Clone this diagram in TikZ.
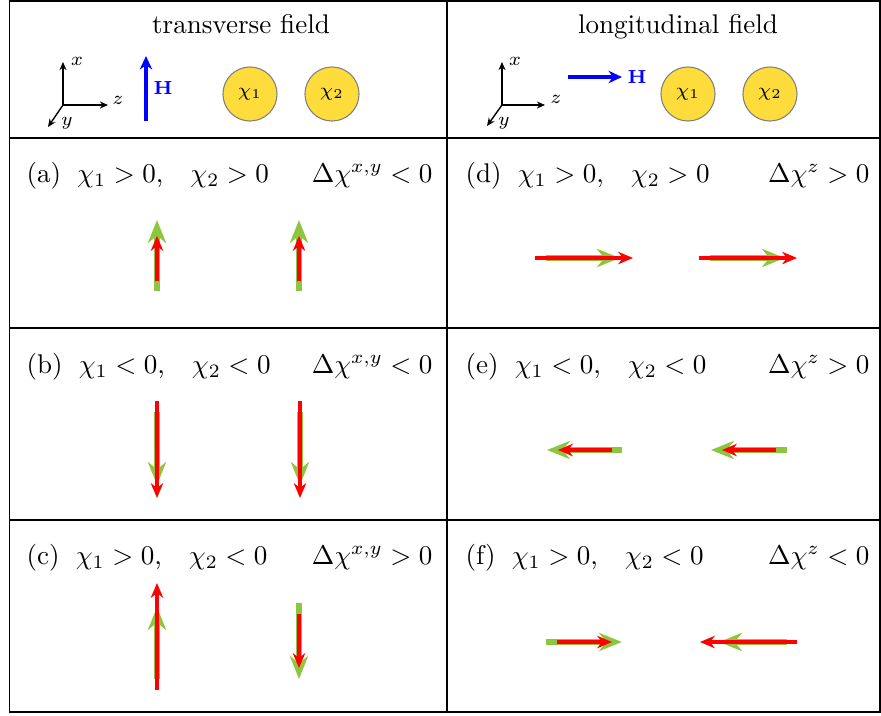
\documentclass[tikz,border=0pt]{standalone}
\usetikzlibrary{arrows.meta}
\definecolor{grn}{HTML}{8CC63F}
\definecolor{yel}{HTML}{FDDC3C}
\newcommand{\rowtxt}[3]{(#1)\hspace{6pt}$\chi_1#2 0$,\quad$\chi_2#3 0$}
\begin{document}
\begin{tikzpicture}[x=0.37pt,y=-0.37pt,
  grid/.style={line width=0.4pt},
  gar/.style={draw=grn, line width=2.4pt, -{Stealth[length=8.5pt,width=6.7pt]}},
  rar/.style={draw=red, line width=1.2pt, -{Stealth[length=5.5pt,width=4.6pt]}},
  axar/.style={line width=0.5pt, -{Stealth[length=3pt,width=2.6pt]}},
  har/.style={draw=blue, line width=1.5pt, -{Stealth[length=5pt,width=4.6pt]}},
  lab/.style={inner sep=0pt, font=\scriptsize},
  chi/.style={circle, draw=gray, fill=yel, line width=0.4pt, minimum size=20pt, inner sep=0pt, font=\scriptsize},
  row/.style={inner sep=0pt}]
\useasboundingbox (0,0) rectangle (881,715);
% table
\draw[grid] (9.5,1) rectangle (880,712);
\draw[grid] (447,1) -- (447,712);
\draw[grid] (9.5,138) -- (880,138);
\draw[grid] (9.5,328) -- (880,328);
\draw[grid] (9.5,520) -- (880,520);
% headers
\node[anchor=base, inner sep=0pt] (tt) at (241,33) {transverse field};
\node[anchor=base, inner sep=0pt] (lt) at (678,33) {longitudinal field};
% left axes
\coordinate (o1) at (63,105);
\coordinate (x1) at (63,62);
\coordinate (z1) at (108,105);
\coordinate (y1) at (48,127);
\draw[axar] (o1) -- (x1);
\draw[axar] (o1) -- (z1);
\draw[axar] (o1) -- (y1);
\node[lab] (lx1) at (77,61) {$x$};
\node[lab] (lz1) at (118,100) {$z$};
\node[lab] (ly1) at (67,123) {$y$};
\coordinate (h1a) at (146,121);
\coordinate (h1b) at (146,56);
\draw[har] (h1a) -- (h1b);
\node[lab, text=blue] (hl1) at (163,88) {$\mathbf{H}$};
\node[chi] (c11) at (250,94) {$\chi_1$};
\node[chi] (c12) at (332,94) {$\chi_2$};
% right axes
\coordinate (o2) at (502,105);
\coordinate (x2) at (502,62);
\coordinate (z2) at (545,105);
\coordinate (y2) at (487,126);
\draw[axar] (o2) -- (x2);
\draw[axar] (o2) -- (z2);
\draw[axar] (o2) -- (y2);
\node[lab] (lx2) at (515,61) {$x$};
\node[lab] (lz2) at (556,99) {$z$};
\node[lab] (ly2) at (504,123) {$y$};
\coordinate (h2a) at (568,77);
\coordinate (h2b) at (622,77);
\draw[har] (h2a) -- (h2b);
\node[lab, text=blue] (hl2) at (637,77) {$\mathbf{H}$};
\node[chi] (c21) at (688,94) {$\chi_1$};
\node[chi] (c22) at (770,94) {$\chi_2$};
% row labels
\node[row, anchor=base west] (ta) at (26,182) {\rowtxt{a}{>}{>}};
\node[row, anchor=base east] (da) at (433,182) {$\Delta\chi^{x,y}<0$};
\node[row, anchor=base west] (tb) at (26,373) {\rowtxt{b}{<}{<}};
\node[row, anchor=base east] (db) at (433,373) {$\Delta\chi^{x,y}<0$};
\node[row, anchor=base west] (tc) at (26,564) {\rowtxt{c}{>}{<}};
\node[row, anchor=base east] (dc) at (433,564) {$\Delta\chi^{x,y}>0$};
\node[row, anchor=base west] (td) at (465,182) {\rowtxt{d}{>}{>}};
\node[row, anchor=base east] (dd) at (870,182) {$\Delta\chi^{z}>0$};
\node[row, anchor=base west] (te) at (465,373) {\rowtxt{e}{<}{<}};
\node[row, anchor=base east] (de) at (870,373) {$\Delta\chi^{z}>0$};
\node[row, anchor=base west] (tf) at (465,564) {\rowtxt{f}{>}{<}};
\node[row, anchor=base east] (df) at (870,564) {$\Delta\chi^{z}<0$};
% row a
\draw[gar] (157,291) -- (157,220);
\draw[rar] (157,281) -- (157,236);
\draw[gar] (299,291) -- (299,220);
\draw[rar] (299,281) -- (299,236);
% row b
\draw[gar] (157,412) -- (157,485);
\draw[rar] (157,401) -- (157,498);
\draw[gar] (300,412) -- (300,485);
\draw[rar] (300,401) -- (300,498);
% row c
\draw[gar] (157,679) -- (157,607);
\draw[rar] (157,690) -- (157,583);
\draw[gar] (299,603) -- (299,679);
\draw[rar] (299,614) -- (299,668);
% row d
\draw[gar] (546,258) -- (620,258);
\draw[rar] (535,258) -- (633,258);
\draw[gar] (710,258) -- (785,258);
\draw[rar] (699,258) -- (797,258);
% row e
\draw[gar] (622,450) -- (547,450);
\draw[rar] (612,450) -- (558,450);
\draw[gar] (787,450) -- (711,450);
\draw[rar] (776,450) -- (722,450);
% row f
\draw[gar] (546,642) -- (622,642);
\draw[rar] (557,642) -- (612,642);
\draw[gar] (787,642) -- (719,642);
\draw[rar] (797,642) -- (700,642);
\end{tikzpicture}
\end{document}
